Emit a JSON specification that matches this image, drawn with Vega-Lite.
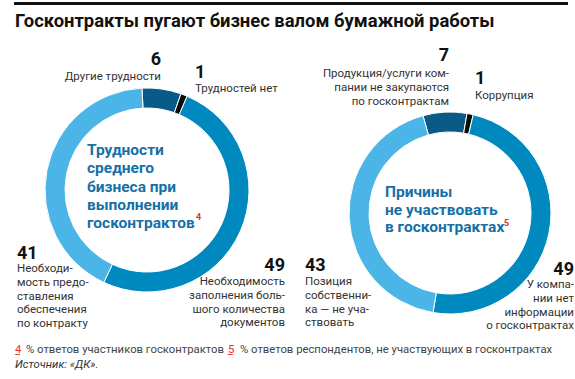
{
  "$schema": "https://vega.github.io/schema/vega-lite/v6.json",
  "padding": {"left": 12, "top": 2, "right": 0, "bottom": 0},
  "background": "#ffffff",
  "bounds": "flush",
  "spacing": 50,
  "config": {"view": {"stroke": null}, "font": "Roboto"},
  "hconcat": [
    {
      "width": 266,
      "height": 284,
      "data": {"values": [
        {"n": 1, "value": 6, "label": "Другие трудности"},
        {"n": 2, "value": 1, "label": "Трудностей нет"},
        {"n": 3, "value": 49, "label": "Необходимость\nзаполнения боль-\nшого количества\nдокументов"},
        {"n": 4, "value": 41, "label": "Необходи-\nмость предо-\nставления\nобеспечения\nпо контракту"}
      ]},
      "layer": [
        {
          "mark": {"type": "arc", "outerRadius": 102, "innerRadius": 82, "stroke": "#ffffff", "strokeWidth": 1},
          "encoding": {
            "theta": {"field": "value", "type": "quantitative", "stack": true, "scale": {"range": [-0.049, 6.234]}},
            "order": {"field": "n", "type": "ordinal"},
            "color": {"field": "n", "type": "ordinal", "scale": {"domain": [1, 2, 3, 4], "range": ["#0a5a87", "#0d0d0d", "#0089bf", "#4ab5e6"]}, "legend": null}
          }
        },
        {
          "mark": {"type": "text", "font": "Roboto", "fontSize": 18, "fontWeight": "bold", "color": "#111111", "baseline": "alphabetic",
            "align": {"expr": "datum.n % 2 == 1 ? 'right' : 'left'"},
            "dx": {"expr": "[14, 48, 138, -130][datum.n - 1]"},
            "dy": {"expr": "[-125, -112, 81, 69][datum.n - 1]"}},
          "encoding": {"text": {"field": "value", "type": "quantitative"}}
        },
        {
          "mark": {"type": "text", "font": "Roboto", "fontSize": 11.5, "color": "#333333", "baseline": "alphabetic", "lineBreak": "\n", "lineHeight": 13.8,
            "align": {"expr": "datum.n % 2 == 1 ? 'right' : 'left'"},
            "dx": {"expr": "[14, 48, 138, -130][datum.n - 1]"},
            "dy": {"expr": "[-110, -98, 95, 82][datum.n - 1]"}},
          "encoding": {"text": {"field": "label", "type": "nominal"}}
        },
        {
          "data": {"values": [{"title": "Трудности\nсреднего\nбизнеса при\nвыполнении\nгосконтрактов", "ref": "4"}]},
          "layer": [
            {
              "mark": {"type": "text", "font": "Roboto", "fontSize": 15.5, "fontWeight": "bold", "color": "#1670a8", "align": "left", "baseline": "middle", "lineBreak": "\n", "lineHeight": 18.3, "dx": -60, "dy": -40},
              "encoding": {"text": {"field": "title", "type": "nominal"}}
            },
            {
              "mark": {"type": "text", "font": "Roboto", "fontSize": 9, "fontWeight": "bold", "color": "#e32b2b", "align": "left", "baseline": "middle", "dx": 49, "dy": 27},
              "encoding": {"text": {"field": "ref", "type": "nominal"}}
            }
          ]
        },
        {
          "data": {"values": [{"heading": "Госконтракты пугают бизнес валом бумажной работы"}]},
          "layer": [
            {
              "mark": {"type": "rule", "strokeWidth": 3, "color": "#111111"},
              "encoding": {"x": {"value": 0}, "x2": {"value": 554}, "y": {"value": -44.5}}
            },
            {
              "mark": {"type": "text", "font": "Roboto", "fontSize": 18.4, "fontWeight": "bold", "color": "#111111", "align": "left", "baseline": "alphabetic", "dx": -132, "dy": -163},
              "encoding": {"text": {"field": "heading", "type": "nominal"}}
            }
          ]
        },
        {
          "data": {"values": [
            {"ref": "4", "note": "% ответов участников госконтрактов"},
            {"ref": "5", "note": "% ответов респондентов, не участвующих в госконтрактах"}
          ]},
          "layer": [
            {
              "mark": {"type": "text", "font": "Roboto", "fontSize": 11.3, "color": "#e32b2b", "align": "left", "baseline": "alphabetic", "dy": 163,
                "dx": {"expr": "datum.ref == '4' ? -132 : 81"}},
              "encoding": {"text": {"field": "ref", "type": "nominal"}}
            },
            {
              "mark": {"type": "text", "font": "Roboto", "fontSize": 11.3, "color": "#e32b2b", "align": "left", "baseline": "alphabetic", "dy": 164, "text": "_",
                "dx": {"expr": "datum.ref == '4' ? -132 : 81"}},
              "encoding": {}
            },
            {
              "mark": {"type": "text", "font": "Roboto", "fontSize": 11.3, "color": "#444444", "align": "left", "baseline": "alphabetic", "dy": 163,
                "dx": {"expr": "datum.ref == '4' ? -121 : 93"}},
              "encoding": {"text": {"field": "note", "type": "nominal"}}
            }
          ]
        },
        {
          "data": {"values": [{"source": "Источник: «ДК»."}]},
          "mark": {"type": "text", "font": "Roboto", "fontSize": 11.3, "fontStyle": "italic", "color": "#333333", "align": "left", "baseline": "alphabetic", "dx": -132, "dy": 178},
          "encoding": {"text": {"field": "source", "type": "nominal"}}
        }
      ]
    },
    {
      "width": 240,
      "height": 330,
      "data": {"values": [
        {"n": 1, "value": 7, "label": "Продукция/услуги ком-\nпании не закупаются\nпо госконтрактам"},
        {"n": 2, "value": 1, "label": "Коррупция"},
        {"n": 3, "value": 49, "label": "У компа-\nнии нет\nинформации\nо госконтрактах"},
        {"n": 4, "value": 43, "label": "Позиция\nсобственни-\nка — не уча-\nствовать"}
      ]},
      "layer": [
        {
          "mark": {"type": "arc", "outerRadius": 101, "innerRadius": 81, "stroke": "#ffffff", "strokeWidth": 1},
          "encoding": {
            "theta": {"field": "value", "type": "quantitative", "stack": true, "scale": {"range": [-0.2705, 6.0127]}},
            "order": {"field": "n", "type": "ordinal"},
            "color": {"field": "n", "type": "ordinal", "scale": {"domain": [1, 2, 3, 4], "range": ["#0a5a87", "#0d0d0d", "#0089bf", "#4ab5e6"]}, "legend": null}
          }
        },
        {
          "mark": {"type": "text", "font": "Roboto", "fontSize": 18, "fontWeight": "bold", "color": "#111111", "baseline": "alphabetic",
            "align": {"expr": "datum.n % 2 == 1 ? 'right' : 'left'"},
            "dx": {"expr": "[-1, 25, 124, -145][datum.n - 1]"},
            "dy": {"expr": "[-152, -129, 62, 58][datum.n - 1]"}},
          "encoding": {"text": {"field": "value", "type": "quantitative"}}
        },
        {
          "mark": {"type": "text", "font": "Roboto", "fontSize": 11.5, "color": "#333333", "baseline": "alphabetic", "lineBreak": "\n", "lineHeight": 13.8,
            "align": {"expr": "datum.n % 2 == 1 ? 'right' : 'left'"},
            "dx": {"expr": "[-1, 25, 124, -145][datum.n - 1]"},
            "dy": {"expr": "[-136, -114, 75, 72][datum.n - 1]"}},
          "encoding": {"text": {"field": "label", "type": "nominal"}}
        },
        {
          "data": {"values": [{"title": "Причины\nне участвовать\nв госконтрактах", "ref": "5"}]},
          "layer": [
            {
              "mark": {"type": "text", "font": "Roboto", "fontSize": 15.5, "fontWeight": "bold", "color": "#1670a8", "align": "left", "baseline": "middle", "lineBreak": "\n", "lineHeight": 17.5, "dx": -65, "dy": -21},
              "encoding": {"text": {"field": "title", "type": "nominal"}}
            },
            {
              "mark": {"type": "text", "font": "Roboto", "fontSize": 9, "fontWeight": "bold", "color": "#e32b2b", "align": "left", "baseline": "middle", "dx": 54, "dy": 10},
              "encoding": {"text": {"field": "ref", "type": "nominal"}}
            }
          ]
        }
      ]
    }
  ]
}
